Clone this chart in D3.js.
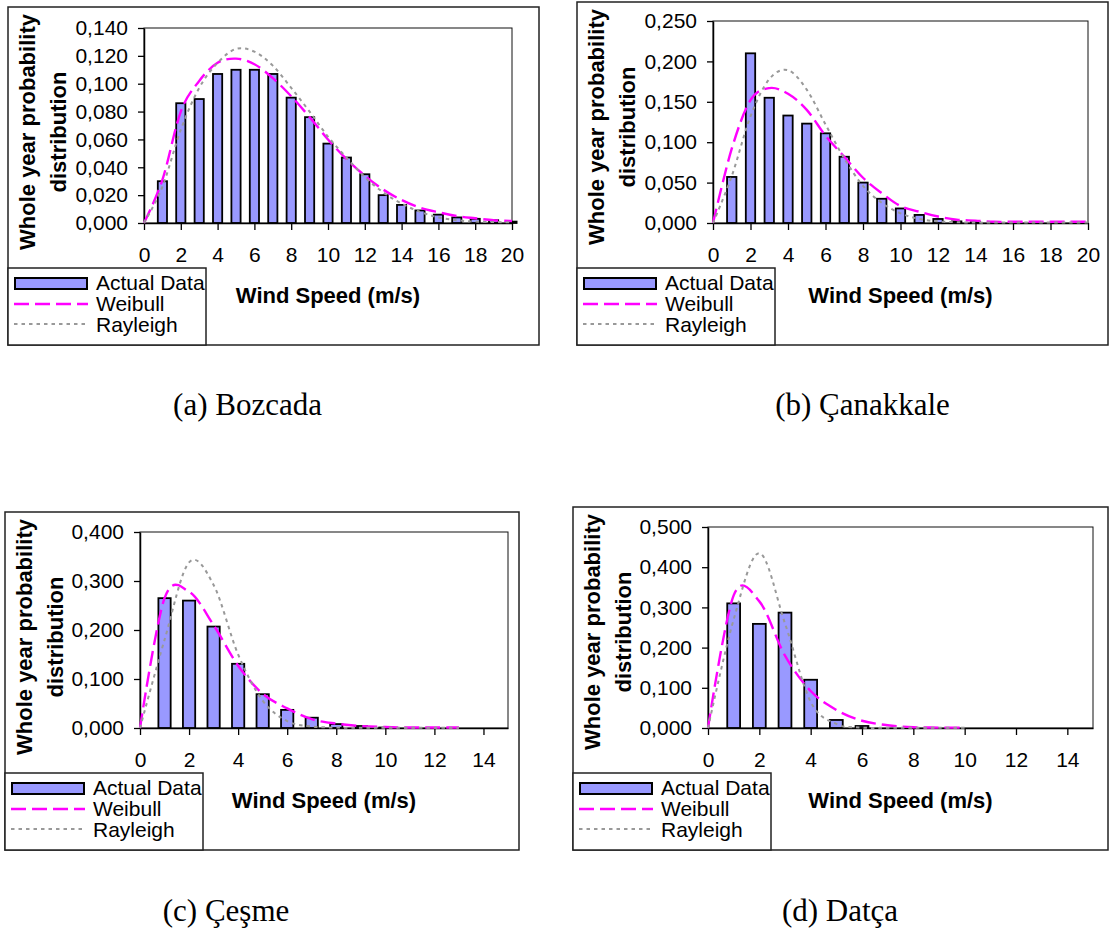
<!DOCTYPE html>
<html><head><meta charset="utf-8">
<script src="https://cdn.jsdelivr.net/npm/d3@7"></script>
<style>body{margin:0;background:#fff}svg{display:block}</style>
</head><body>
<svg id="chart" width="1111" height="928"></svg>
<script>
// ---------- DATA ----------
// (a) Bozcada
const speedsA   = [1,2,3,4,5,6,7,8,9,10,11,12,13,14,15,16,17,18,19,20];
const actualA   = [0.030,0.086,0.089,0.107,0.110,0.110,0.107,0.090,0.076,0.057,0.047,0.035,0.020,0.013,0.009,0.006,0.004,0.003,0.002,0.001];
const curveXA   = [0,1,2,3,4,5,6,7,8,9,10,11,12,13,14,15,16,17,18,19,20];
const weibullA  = [0,0.031,0.080,0.102,0.115,0.118,0.114,0.104,0.091,0.076,0.060,0.046,0.034,0.024,0.0165,0.011,0.0077,0.005,0.0034,0.002,0.0014];
const rayleighA = [0,0.026,0.067,0.097,0.115,0.125,0.123,0.113,0.097,0.080,0.062,0.047,0.033,0.022,0.014,0.008,0.004,0.002,0.001,0.0007,0.0005];
const xTicksA   = [0,2,4,6,8,10,12,14,16,18,20];
const yTicksA   = [0,0.02,0.04,0.06,0.08,0.10,0.12,0.14];

// (b) Çanakkale
const speedsB   = [1,2,3,4,5,6,7,8,9,10,11,12,13,14,15,16,17,18,19,20];
const actualB   = [0.057,0.210,0.155,0.133,0.123,0.111,0.082,0.050,0.030,0.018,0.010,0.005,0.002,0.001,0.001,0,0,0,0,0];
const curveXB   = [0,1,2,3,4,5,6,7,8,9,10,11,12,13,14,15,16,17,18,19,20];
const weibullB  = [0,0.092,0.152,0.167,0.160,0.140,0.108,0.082,0.056,0.037,0.021,0.014,0.008,0.004,0.003,0.0015,0.0015,0.0015,0.0015,0.0015,0.0015];
const rayleighB = [0,0.058,0.132,0.178,0.189,0.165,0.122,0.080,0.046,0.025,0.012,0.005,0.002,0.001,0.0005,0.0005,0.0005,0.0005,0.0005,0.0005,0.0005];
const xTicksB   = [0,2,4,6,8,10,12,14,16,18,20];
const yTicksB   = [0,0.05,0.10,0.15,0.20,0.25];

// (c) Çeşme
const speedsC   = [1,2,3,4,5,6,7,8,9,10];
const actualC   = [0.265,0.260,0.207,0.131,0.069,0.037,0.021,0.008,0.004,0.001];
const curveXC   = [0,1,2,3,4,5,6,7,8,9,10,11,12,13];
const weibullC  = [0,0.265,0.278,0.210,0.127,0.070,0.040,0.018,0.009,0.004,0.002,0.001,0.001,0.001];
const rayleighC = [0,0.180,0.338,0.292,0.150,0.056,0.014,0.003,0.001,0.0005,0.0005,0.0005,0.0005,0.0005];
const xTicksC   = [0,2,4,6,8,10,12,14];
const yTicksC   = [0,0.1,0.2,0.3,0.4];

// (d) Datça
const speedsD   = [1,2,3,4,5,6];
const actualD   = [0.310,0.259,0.287,0.120,0.020,0.005];
const curveXD   = [0,1,2,3,4,5,6,7,8,9,10];
const weibullD  = [0,0.330,0.315,0.180,0.092,0.045,0.018,0.007,0.002,0.001,0.001];
const rayleighD = [0,0.270,0.435,0.260,0.065,0.010,0.001,0.0005,0.0005,0.0005,0.0005];
const xTicksD   = [0,2,4,6,8,10,12,14];
const yTicksD   = [0,0.1,0.2,0.3,0.4,0.5];

const captions = ["(a) Bozcada","(b) Çanakkale","(c) Çeşme","(d) Datça"];
const seriesNames = ["Actual Data","Weibull","Rayleigh"];

// ---------- LAYOUT ----------
const panels = [
  {speeds:speedsA, actual:actualA, cx:curveXA, w:weibullA, r:rayleighA, xt:xTicksA, yt:yTicksA, xMax:20, yMax:0.14,
   box:[8,7,539,345], plot:[144,28,512,223], cap:[247.5,415]},
  {speeds:speedsB, actual:actualB, cx:curveXB, w:weibullB, r:rayleighB, xt:xTicksB, yt:yTicksB, xMax:20, yMax:0.25,
   box:[577,2,1108,345], plot:[713,21,1088,223], cap:[862.5,415]},
  {speeds:speedsC, actual:actualC, cx:curveXC, w:weibullC, r:rayleighC, xt:xTicksC, yt:yTicksC, xMax:15, yMax:0.4,
   box:[5,512,519,850], plot:[140,532,508,728], cap:[226,921]},
  {speeds:speedsD, actual:actualD, cx:curveXD, w:weibullD, r:rayleighD, xt:xTicksD, yt:yTicksD, xMax:15, yMax:0.5,
   box:[573,507,1108,850], plot:[708,527,1093,728], cap:[840,921]}
];

const SANS = "'Liberation Sans', Arial, sans-serif";
const SERIF = "'Liberation Serif', 'Times New Roman', serif";
const BAR_FILL = "#9999ff";
const W_COL = "#ff00ff";
const R_COL = "#999999";
const W_DASH = "15,6";
const R_DASH = "3.5,4";
const fmt = v => d3.format(".3f")(v).replace(".", ",");

const svg = d3.select("#chart");

panels.forEach((p, idx) => {
  const g = svg.append("g");
  const [bx0, by0, bx1, by1] = p.box;
  const [px0, py0, px1, py1] = p.plot;

  g.append("rect").attr("x", bx0).attr("y", by0).attr("width", bx1 - bx0).attr("height", by1 - by0)
    .attr("fill", "#fff").attr("stroke", "#222").attr("stroke-width", 1.5);

  const x = d3.scaleLinear().domain([0, p.xMax]).range([px0, px1]);
  const y = d3.scaleLinear().domain([0, p.yMax]).range([py1, py0]);

  // plot frame
  g.append("rect").attr("x", px0).attr("y", py0).attr("width", px1 - px0).attr("height", py1 - py0)
    .attr("fill", "none").attr("stroke", "#111").attr("stroke-width", 1);

  // bars
  const bw = (x(1) - x(0)) * 0.5;
  g.append("g").selectAll("rect")
    .data(p.speeds.map((s, i) => ({s, v: p.actual[i]})).filter(d => d.v > 0))
    .join("rect")
    .attr("x", d => x(d.s) - bw / 2)
    .attr("y", d => y(d.v))
    .attr("width", bw)
    .attr("height", d => y(0) - y(d.v))
    .attr("fill", BAR_FILL).attr("stroke", "#000").attr("stroke-width", 1.8);

  // axes
  const ax = g.append("g").attr("transform", `translate(0,${py1})`)
    .call(d3.axisBottom(x).tickValues(p.xt).tickFormat(d3.format("d")).tickSize(7).tickSizeOuter(0).tickPadding(17));
  const ay = g.append("g").attr("transform", `translate(${px0},0)`)
    .call(d3.axisLeft(y).tickValues(p.yt).tickFormat(fmt).tickSize(6).tickSizeOuter(0).tickPadding(10));
  [ax, ay].forEach(a => {
    a.select(".domain").attr("stroke", "#000").attr("stroke-width", 1.5);
    a.selectAll(".tick line").attr("stroke", "#000").attr("stroke-width", 1.3);
    a.selectAll(".tick text").attr("font-family", SANS).attr("font-size", 21).attr("fill", "#000");
  });

  // curves
  const line = d3.line().x(d => x(d[0])).y(d => y(d[1])).curve(d3.curveCardinal.tension(0));
  g.append("path").datum(p.cx.map((v, i) => [v, p.w[i]])).attr("d", line)
    .attr("fill", "none").attr("stroke", W_COL).attr("stroke-width", 2.4).attr("stroke-dasharray", W_DASH);
  g.append("path").datum(p.cx.map((v, i) => [v, p.r[i]])).attr("d", line)
    .attr("fill", "none").attr("stroke", R_COL).attr("stroke-width", 2).attr("stroke-dasharray", R_DASH);

  // y title
  const ty = by0 + 125;
  g.append("text").attr("transform", `translate(${bx0 + 27},${ty}) rotate(-90)`)
    .attr("text-anchor", "middle").attr("font-family", SANS).attr("font-weight", "bold").attr("font-size", 22)
    .text("Whole year probability");
  g.append("text").attr("transform", `translate(${bx0 + 58},${ty}) rotate(-90)`)
    .attr("text-anchor", "middle").attr("font-family", SANS).attr("font-weight", "bold").attr("font-size", 22)
    .text("distribution");

  // x title
  g.append("text").attr("x", (px0 + px1) / 2).attr("y", py1 + 80)
    .attr("text-anchor", "middle").attr("font-family", SANS).attr("font-weight", "bold").attr("font-size", 22)
    .text("Wind Speed (m/s)");

  // legend
  const lx = bx0, ly = by1 - 77;
  const lg = g.append("g").attr("transform", `translate(${lx},${ly})`);
  lg.append("rect").attr("width", 198).attr("height", 77).attr("fill", "#fff").attr("stroke", "#222").attr("stroke-width", 1.5);
  lg.append("rect").attr("x", 7).attr("y", 10).attr("width", 72).attr("height", 11)
    .attr("fill", BAR_FILL).attr("stroke", "#000").attr("stroke-width", 2);
  lg.append("line").attr("x1", 6).attr("x2", 80).attr("y1", 36).attr("y2", 36)
    .attr("stroke", W_COL).attr("stroke-width", 2.4).attr("stroke-dasharray", W_DASH);
  lg.append("line").attr("x1", 6).attr("x2", 80).attr("y1", 56).attr("y2", 56)
    .attr("stroke", R_COL).attr("stroke-width", 2).attr("stroke-dasharray", R_DASH);
  [22, 43, 64].forEach((yy, i) => {
    lg.append("text").attr("x", 88).attr("y", yy).attr("font-family", SANS).attr("font-size", 21)
      .text(seriesNames[i]);
  });

  // caption
  svg.append("text").attr("x", p.cap[0]).attr("y", p.cap[1]).attr("text-anchor", "middle")
    .attr("font-family", SERIF).attr("font-size", 31).text(captions[idx]);
});
</script>
</body></html>
